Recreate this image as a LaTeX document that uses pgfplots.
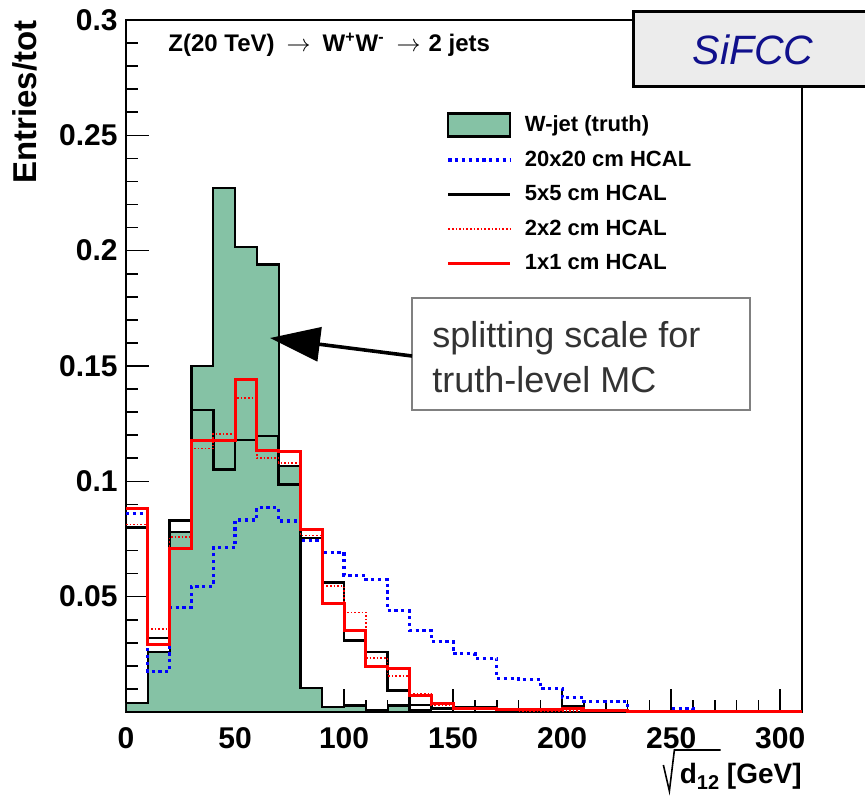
\documentclass[border=0pt]{standalone}
\usepackage{pgfplots}
\pgfplotsset{compat=1.18}
\usepackage{fontspec}
\setmainfont{Liberation Sans}
\usetikzlibrary{arrows.meta}
\definecolor{wgreen}{RGB}{133,194,165}
\definecolor{sinavy}{RGB}{16,16,140}
\definecolor{boxgray}{RGB}{236,236,236}
\definecolor{txtgray}{RGB}{51,51,51}
\begin{document}
\begin{tikzpicture}
\begin{axis}[
  at={(0pt,0pt)}, anchor=south west,
  scale only axis, width=338pt, height=346pt,
  xmin=0, xmax=310, ymin=0, ymax=0.3,
  axis line style={line width=0.8pt},
  xtick={0,50,100,150,200,250,300},
  xticklabels={0,50,100,150,200,250,300},
  minor xtick={10,20,30,40,60,70,80,90,110,120,130,140,160,170,180,190,210,220,230,240,260,270,280,290,310},
  ytick={0,0.05,0.1,0.15,0.2,0.25,0.3},
  yticklabels={,0.05,0.1,0.15,0.2,0.25,0.3},
  minor ytick={0.01,0.02,0.03,0.04,0.06,0.07,0.08,0.09,0.11,0.12,0.13,0.14,0.16,0.17,0.18,0.19,0.21,0.22,0.23,0.24,0.26,0.27,0.28,0.29},
  tick align=inside, tick pos=left,
  major tick length=11.5pt, minor tick length=6pt,
  tick style={black, line width=0.8pt},
  ticklabel style={font=\bfseries\fontsize{15}{15}\selectfont},
  yticklabel style={inner sep=4pt},
  xticklabel style={inner sep=0pt, yshift=-7.5pt},
  legend style={at={(rel axis cs:0.465,0.874)}, anchor=north west, draw=none, fill=none,
    font=\bfseries\fontsize{11}{12}\selectfont, row sep=4.1pt},
  legend cell align=left,
]
\addplot[const plot mark left, fill=wgreen, draw=black, line width=1.1pt,
  legend image code/.code={\draw[fill=wgreen,draw=black,line width=1.1pt] (0pt,-5.75pt) rectangle (31pt,5.75pt); \path (35.5pt,0pt);}]
coordinates {(0,0.004) (10,0.026) (20,0.078) (30,0.150) (40,0.227) (50,0.2016) (60,0.194) (70,0.1067) (80,0.0103) (90,0.0022) (100,0.0028) (110,0.0009) (120,0.0028) (130,0.0007) (140,0) (150,0) (160,0) (170,0) (180,0) (190,0) (200,0) (210,0) (220,0) (230,0) (240,0) (250,0) (260,0) (270,0) (280,0) (290,0) (300,0) (310,0)} \closedcycle;
\addlegendentry{W-jet (truth)}
\addplot[const plot mark left, blue, line width=1.6pt, dash pattern=on 1.6pt off 1.8pt,
  legend image code/.code={\draw[blue,line width=1.6pt,dash pattern=on 1.6pt off 1.8pt] (0pt,0pt) -- (31pt,0pt); \path (35.5pt,0pt);}]
coordinates {(0,0.086) (10,0.0175) (20,0.0454) (30,0.0545) (40,0.0712) (50,0.0832) (60,0.0886) (70,0.0828) (80,0.0745) (90,0.0693) (100,0.0593) (110,0.0574) (120,0.0439) (130,0.0354) (140,0.0306) (150,0.0252) (160,0.0233) (170,0.0146) (180,0.0141) (190,0.0103) (200,0.0062) (210,0.0045) (220,0.0045) (230,0.0003) (240,0.0003) (250,0.0016) (260,0.0002) (270,0.0002) (280,0.0002) (290,0.0002) (300,0.0002) (310,0.0002)};
\addlegendentry{20x20 cm HCAL}
\addplot[const plot mark left, black, line width=1.3pt,
  legend image code/.code={\draw[black,line width=1.3pt] (0pt,0pt) -- (31pt,0pt); \path (35.5pt,0pt);}]
coordinates {(0,0.080) (10,0.032) (20,0.083) (30,0.131) (40,0.105) (50,0.118) (60,0.1197) (70,0.0987) (80,0.0755) (90,0.0562) (100,0.031) (110,0.026) (120,0.0093) (130,0.003) (140,0.0015) (150,0.002) (160,0.002) (170,0.001) (180,0.001) (190,0.0005) (200,0.0023) (210,0.0005) (220,0) (230,0) (240,0) (250,0) (260,0) (270,0) (280,0) (290,0) (300,0) (310,0)};
\addlegendentry{5x5 cm HCAL}
\addplot[const plot mark left, red, line width=0.8pt, dash pattern=on 0.8pt off 1pt,
  legend image code/.code={\draw[red,line width=0.8pt,dash pattern=on 0.8pt off 1pt] (0pt,0pt) -- (31pt,0pt); \path (35.5pt,0pt);}]
coordinates {(0,0.0813) (10,0.036) (20,0.0758) (30,0.1142) (40,0.1204) (50,0.136) (60,0.110) (70,0.108) (80,0.0765) (90,0.0545) (100,0.0432) (110,0.0233) (120,0.0157) (130,0.0078) (140,0.003) (150,0.001) (160,0.001) (170,0.0008) (180,0.0005) (190,0.0005) (200,0.0005) (210,0.0003) (220,0.0003) (230,0.0003) (240,0.0003) (250,0.0003) (260,0.0003) (270,0.0003) (280,0.0003) (290,0.0003) (300,0.0003) (310,0.0003)};
\addlegendentry{2x2 cm HCAL}
\addplot[const plot mark left, red, line width=1.5pt,
  legend image code/.code={\draw[red,line width=1.5pt] (0pt,0pt) -- (31pt,0pt); \path (35.5pt,0pt);}]
coordinates {(0,0.0883) (10,0.0291) (20,0.0707) (30,0.1175) (40,0.1175) (50,0.144) (60,0.1132) (70,0.1128) (80,0.079) (90,0.047) (100,0.0352) (110,0.0197) (120,0.019) (130,0.007) (140,0.0038) (150,0.0015) (160,0.0015) (170,0.001) (180,0.001) (190,0.001) (200,0.0015) (210,0.0005) (220,0.0005) (230,0.0004) (240,0.0004) (250,0.0004) (260,0.0004) (270,0.0004) (280,0.0004) (290,0.0004) (300,0.0004) (310,0.0004)};
\addlegendentry{1x1 cm HCAL}
\end{axis}
\node[rotate=90, anchor=base east, inner sep=0pt, font=\bfseries\fontsize{16.5}{16.5}\selectfont]
  at (-44.5pt,346pt) {Entries/tot};
\node[anchor=base east, inner sep=0pt, font=\bfseries\fontsize{14}{14}\selectfont] (gev)
  at (338pt,-35.5pt) {[GeV]};
\node[anchor=base east, inner sep=0pt, font=\bfseries\fontsize{14}{14}\selectfont] (d12)
  at ([xshift=-3.5pt]gev.base west) {d\raisebox{-3pt}{\fontsize{10}{10}\selectfont 12}};
\draw[line width=0.8pt, line join=miter]
  ([xshift=-8pt,yshift=9pt]d12.base west) -- ([xshift=-5pt,yshift=-4pt]d12.base west)
  -- ([xshift=-2.5pt,yshift=16.5pt]d12.base west) -- ([xshift=0.5pt,yshift=16.5pt]d12.base east);
\node[anchor=west, inner sep=0pt, font=\bfseries\fontsize{12}{12}\selectfont] at (21pt,333.5pt)
  {Z(20 TeV)\hspace{6pt}$\rightarrow$\hspace{6pt}W\textsuperscript{+}W\textsuperscript{-}\hspace{6pt}$\rightarrow$\hspace{4pt}2 jets};
\draw[fill=boxgray, line width=1.5pt] (253.5pt,312.5pt) rectangle (380pt,350pt);
\node[text=sinavy, font=\itshape\fontsize{20.5}{21}\selectfont] at (313.5pt,331pt) {SiFCC};
\draw[draw=gray, line width=0.6pt, fill=white] (143pt,151pt) rectangle (312pt,207pt);
\node[anchor=base west, inner sep=0pt, text=txtgray, font=\fontsize{18}{18}\selectfont] at (153pt,182pt) {splitting scale for};
\node[anchor=base west, inner sep=0pt, text=txtgray, font=\fontsize{18}{18}\selectfont] at (153pt,159.5pt) {truth-level MC};
\draw[line width=1.8pt, -{Triangle[length=25pt,width=17pt]}] (143pt,178pt) -- (72pt,187pt);
\pgfresetboundingbox
\path[use as bounding box] (-63pt,-42pt) rectangle (369.5pt,356pt);
\end{tikzpicture}
\end{document}
